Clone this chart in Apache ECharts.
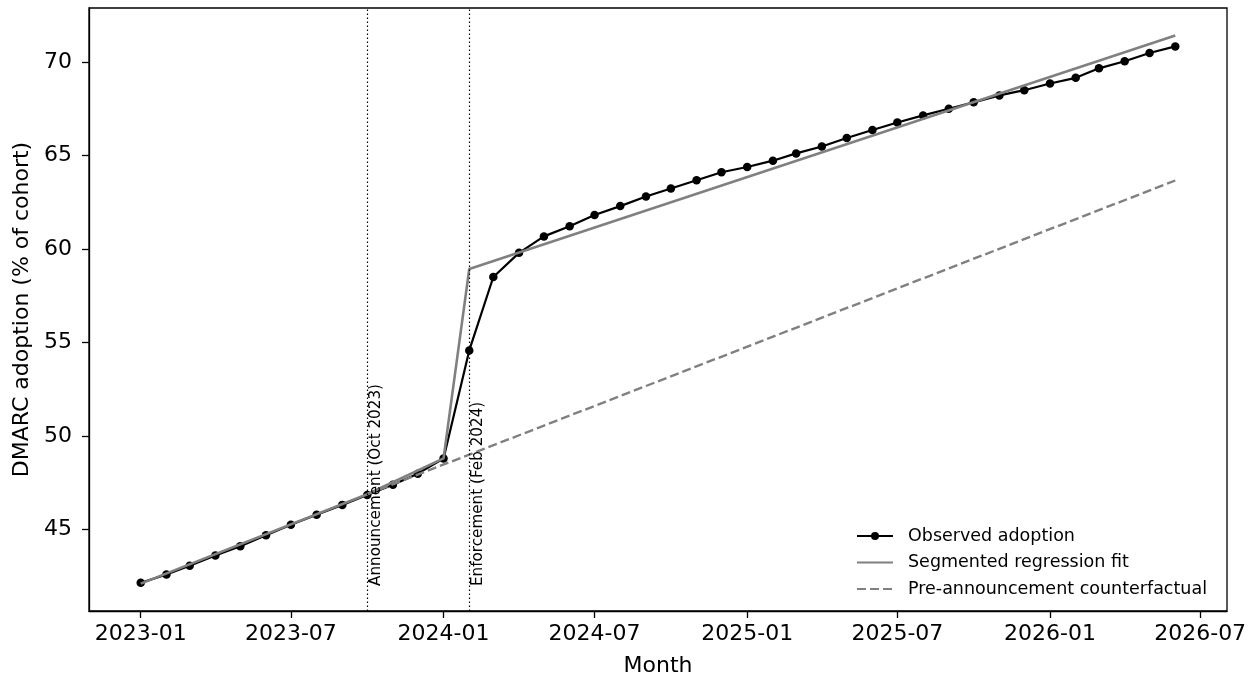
<!DOCTYPE html>
<html>
<head>
<meta charset="utf-8">
<script src="https://cdn.jsdelivr.net/npm/echarts@6/dist/echarts.min.js"></script>
<style>
html,body{margin:0;padding:0;background:#fff;}
#chart{width:1256px;height:682px;}
</style>
</head>
<body>
<div id="chart"></div>
<script>
// ---- data ----
const months = [
  '2023-01','2023-02','2023-03','2023-04','2023-05','2023-06','2023-07','2023-08','2023-09','2023-10','2023-11','2023-12',
  '2024-01','2024-02','2024-03','2024-04','2024-05','2024-06','2024-07','2024-08','2024-09','2024-10','2024-11','2024-12',
  '2025-01','2025-02','2025-03','2025-04','2025-05','2025-06','2025-07','2025-08','2025-09','2025-10','2025-11','2025-12',
  '2026-01','2026-02','2026-03','2026-04','2026-05','2026-06'
];
const observed = [
  42.14, 42.59, 43.05, 43.60, 44.10, 44.68, 45.25, 45.78, 46.31, 46.84, 47.39, 47.98,
  48.79, 54.57, 58.50, 59.79, 60.67, 61.21, 61.81, 62.29, 62.80, 63.23, 63.67, 64.10,
  64.38, 64.72, 65.11, 65.48, 65.93, 66.36, 66.76, 67.14, 67.50, 67.84, 68.21, 68.49,
  68.85, 69.15, 69.66, 70.04, 70.48, 70.83
];
// segmented regression fit (piecewise linear: vertices)
const fitMonths = ['2023-01', '2023-10', '2024-01', '2024-02', '2026-06'];
const fitValues = [42.10, 46.88, 48.80, 58.93, 71.42];
// counterfactual (straight line from announcement)
const cfMonths = ['2023-10', '2026-06'];
const cfValues = [46.88, 63.66];
// event markers
const eventMonths = ['2023-10', '2024-02'];
const eventLabels = ['Announcement (Oct 2023)', 'Enforcement (Feb 2024)'];
// tick labels
const xTickMonths = ['2023-01','2023-07','2024-01','2024-07','2025-01','2025-07','2026-01','2026-07'];
const yTicks = [45, 50, 55, 60, 65, 70];
const seriesNames = ['Observed adoption', 'Segmented regression fit', 'Pre-announcement counterfactual'];

// ---- helpers ----
function ts(s) { const p = s.split('-').map(Number); return Date.UTC(p[0], p[1] - 1, 1); }
function pairs(ms, vs) { return ms.map((m, i) => [ts(m), vs[i]]); }
function fmtMonth(v) { const d = new Date(v); return d.getUTCFullYear() + '-' + String(d.getUTCMonth() + 1).padStart(2, '0'); }

const xFirst = ts(months[0]), xLast = ts(months[months.length - 1]);
const xPad = 0.05 * (xLast - xFirst);
const allY = observed.concat(fitValues, cfValues);
const yLo = Math.min.apply(null, allY), yHi = Math.max.apply(null, allY);
const yPad = 0.05 * (yHi - yLo);

const FONT = 'DejaVu Sans';
const hiddenDot = {color: 'rgba(0,0,0,0)', borderWidth: 0, opacity: 0};
const chart = echarts.init(document.getElementById('chart'), null, {renderer: 'canvas'});
chart.setOption({
  animation: false,
  backgroundColor: '#fff',
  textStyle: {fontFamily: FONT},
  grid: {left: 89, right: 29, top: 8, bottom: 68, show: true, borderColor: '#000', borderWidth: 1.3, backgroundColor: 'transparent'},
  legend: {
    orient: 'vertical', left: 851, top: 522,
    itemWidth: 36, itemHeight: 10, itemGap: 8.5,
    data: [
      {name: seriesNames[0]},
      {name: seriesNames[1], itemStyle: hiddenDot},
      {name: seriesNames[2], itemStyle: hiddenDot}
    ],
    textStyle: {fontFamily: FONT, fontSize: 17.5, color: '#000', padding: [0, 0, 0, 10]},
    selectedMode: false
  },
  xAxis: {
    type: 'value',
    min: xFirst - xPad, max: xLast + xPad,
    name: 'Month', nameLocation: 'middle', nameGap: 44,
    nameTextStyle: {fontFamily: FONT, fontSize: 22, color: '#000'},
    axisLine: {show: true, lineStyle: {color: '#000', width: 1.3}},
    axisTick: {show: true, length: 7, lineStyle: {color: '#000', width: 1.3}, customValues: xTickMonths.map(ts)},
    axisLabel: {
      fontFamily: FONT, fontSize: 22, color: '#000', margin: 12,
      customValues: xTickMonths.map(ts),
      formatter: fmtMonth
    },
    splitLine: {show: false}
  },
  yAxis: {
    type: 'value',
    min: yLo - yPad, max: yHi + yPad,
    name: 'DMARC adoption (% of cohort)', nameLocation: 'middle', nameGap: 56,
    nameTextStyle: {fontFamily: FONT, fontSize: 22, color: '#000'},
    axisLine: {show: true, lineStyle: {color: '#000', width: 1.3}},
    axisTick: {show: true, length: 7, lineStyle: {color: '#000', width: 1.3}, customValues: yTicks},
    axisLabel: {fontFamily: FONT, fontSize: 22, color: '#000', margin: 17, customValues: yTicks},
    splitLine: {show: false}
  },
  series: [
    {
      name: seriesNames[0], type: 'line',
      data: pairs(months, observed),
      symbol: 'circle', symbolSize: 8.5, showSymbol: true,
      lineStyle: {color: '#000', width: 2.2},
      itemStyle: {color: '#000'},
      emphasis: {disabled: true},
      markLine: {
        silent: true, symbol: ['none', 'none'],
        lineStyle: {color: '#000', type: [1.5, 2.5], width: 1.2},
        label: {
          show: true, position: 'insideStartBottom', distance: [25, 1],
          fontFamily: FONT, fontSize: 15.2, color: '#000',
          formatter: function (p) { return eventLabels[p.dataIndex]; }
        },
        data: eventMonths.map(m => ({xAxis: ts(m)}))
      },
      z: 2
    },
    {
      name: seriesNames[1], type: 'line',
      data: pairs(fitMonths, fitValues),
      showSymbol: false, symbol: 'none',
      lineStyle: {color: '#808080', width: 2.6},
      itemStyle: {color: '#808080'},
      emphasis: {disabled: true},
      z: 3
    },
    {
      name: seriesNames[2], type: 'line',
      data: pairs(cfMonths, cfValues),
      showSymbol: false, symbol: 'none',
      lineStyle: {color: '#808080', width: 2.4, type: [9, 4]},
      itemStyle: {color: '#808080'},
      emphasis: {disabled: true},
      z: 3
    }
  ]
});
</script>
</body>
</html>
